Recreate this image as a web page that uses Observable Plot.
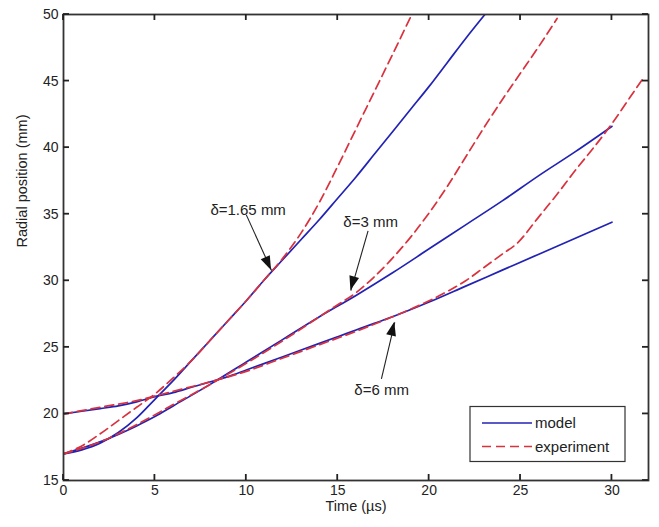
<!DOCTYPE html>
<html><head><meta charset="utf-8">
<script src="https://cdn.jsdelivr.net/npm/d3@7"></script>
<script src="https://cdn.jsdelivr.net/npm/@observablehq/plot@0.6"></script>
<style>
body{margin:0;background:#fff;}
#chart{width:659px;height:527px;}
</style></head><body><div id="chart"></div>
<script>
// ---- data (time in µs, radial position in mm) ----
const model165T = [0,1,2,3,4,5,6,7,8,9,10,11,12,13,14,15,16,17,18,19,20,21,22,23.05];
const model165R = [17.0,17.3,17.8,18.6,19.7,21.1,22.5,24.0,25.5,27.0,28.5,30.1,31.6,33.1,34.6,36.2,37.8,39.5,41.2,42.9,44.6,46.4,48.2,50.0];
const exp165T = [0,1,2,3,4,5,6,7,8,9,10,11,12,13,14,15,16,17,18,19.05];
const exp165R = [17.0,17.6,18.5,19.5,20.5,21.5,22.7,24.0,25.5,27.0,28.5,30.1,31.7,33.6,35.9,38.6,41.4,44.2,47.0,50.0];

const model3T = [0,2,4,5,6,8,10,12,14,16,18,20,22,24,26,28,30];
const model3R = [17.0,17.9,19.1,19.8,20.6,22.2,23.9,25.6,27.3,28.9,30.6,32.4,34.2,36.0,37.9,39.7,41.6];
const exp3T = [0,2,4,6,8,10,12,14,15,16,17,18,19,20,21,22,23,24,25,26,27];
const exp3R = [17.0,17.9,19.2,20.7,22.2,23.8,25.5,27.3,28.2,29.1,30.3,31.7,33.3,35.1,37.1,39.3,41.5,43.6,45.6,47.6,49.7];

const model6T = [0,1,2,3,4,5,6,7,8,9,10,11,12,13,14,15,16,17,18,20,22,24,26,28,30];
const model6R = [20.0,20.2,20.4,20.6,20.9,21.3,21.6,22.0,22.4,22.8,23.3,23.8,24.3,24.8,25.3,25.8,26.3,26.8,27.3,28.4,29.6,30.8,32.0,33.2,34.4];
const exp6T = [0,2,4,6,8,10,12,14,16,18,20,21,22,23,24,24.8,26,27,28,29,30,31,31.7];
const exp6R = [20.0,20.5,21.0,21.7,22.4,23.2,24.2,25.2,26.2,27.3,28.5,29.2,30.0,31.0,32.0,32.8,34.8,36.5,38.3,40.0,41.8,43.8,45.2];

const xTicks = [0,5,10,15,20,25,30];
const yTicks = [15,20,25,30,35,40,45,50];
const legendLabels = ["model","experiment"];

// annotations: arrow tail (x1,y1) -> tip (x2,y2), label at (tx,ty)
const annotations = [
  {label:"δ=1.65 mm", tx:10.1, ty:35.3, x1:10.0, y1:34.95, x2:11.38, y2:30.77},
  {label:"δ=3 mm",    tx:16.8, ty:34.4, x1:16.66, y1:33.75, x2:15.72, y2:29.26},
  {label:"δ=6 mm",    tx:17.4, ty:21.75, x1:17.39, y1:22.63, x2:18.12, y2:26.88}
];

// ---- build table ----
const series = [
  {kind:"model", key:"m165", t:model165T, r:model165R},
  {kind:"model", key:"m3", t:model3T, r:model3R},
  {kind:"model", key:"m6", t:model6T, r:model6R},
  {kind:"experiment", key:"e165", t:exp165T, r:exp165R},
  {kind:"experiment", key:"e3", t:exp3T, r:exp3R},
  {kind:"experiment", key:"e6", t:exp6T, r:exp6R}
];
const rows = series.flatMap(s => s.t.map((t,i) => ({t, r:s.r[i], key:s.key, kind:s.kind})));

const BLUE = "#2222b4", RED = "#d9323e", INK = "#222", AX = "#333";
const FONT = "'Liberation Sans', Arial, Helvetica, sans-serif";
const H = 527, W = 659, mT = 14, mB = 47, mL = 63, mR = 11;
const XD = [0, 32], YD = [15, 50];
const TICK = 6;

const plot = Plot.plot({
  width: W, height: H,
  marginLeft: mL, marginRight: mR, marginTop: mT, marginBottom: mB,
  x: {domain: XD},
  y: {domain: YD},
  style: {fontFamily: FONT, fontSize: "14px", color: INK, background: "#fff", overflow: "visible"},
  marks: [
    Plot.line(rows.filter(d => d.kind === "model"), {x:"t", y:"r", z:"key", stroke:BLUE, strokeWidth:1.7, curve:"monotone-x", clip:true}),
    Plot.line(rows.filter(d => d.kind === "experiment"), {x:"t", y:"r", z:"key", stroke:RED, strokeWidth:1.7, strokeDasharray:"9,5", curve:"monotone-x", clip:true}),
    Plot.frame({stroke:AX, strokeWidth:1.8}),
    Plot.axisX(xTicks, {anchor:"bottom", tickSize:0, tickPadding:5, label:null, fontSize:14}),
    Plot.axisY(yTicks, {anchor:"left", tickSize:0, tickPadding:5, label:null, fontSize:14}),
    Plot.text(["Time (µs)"], {frameAnchor:"bottom", dy:30, fontSize:14.5, fill:INK}),
    Plot.text(["Radial position (mm)"], {frameAnchor:"left", dx:-41, rotate:-90, fontSize:14.5, fill:INK}),
    Plot.link(annotations, {x1:"x1", y1:"y1", x2:"x2", y2:"y2", stroke:"#222", strokeWidth:1.1}),
    Plot.text(annotations, {x:"tx", y:"ty", text:"label", fontSize:15, fill:INK})
  ]
});

const svg = d3.select(plot);
const sx = plot.scale("x"), sy = plot.scale("y");

// inward tick marks on all four sides (positions from Plot's scales)
const fTop = sy.apply(YD[1]), fBottom = sy.apply(YD[0]), fLeft = sx.apply(XD[0]), fRight = sx.apply(XD[1]);
const tg = svg.append("g").attr("stroke", "#222").attr("stroke-width", 1.8);
for (const t of xTicks) {
  const x = sx.apply(t);
  tg.append("line").attr("x1", x).attr("x2", x).attr("y1", fBottom).attr("y2", fBottom - TICK);
  tg.append("line").attr("x1", x).attr("x2", x).attr("y1", fTop).attr("y2", fTop + TICK);
}
for (const t of yTicks) {
  const y = sy.apply(t);
  tg.append("line").attr("y1", y).attr("y2", y).attr("x1", fLeft).attr("x2", fLeft + TICK);
  tg.append("line").attr("y1", y).attr("y2", y).attr("x1", fRight).attr("x2", fRight - TICK);
}

// filled arrowheads
for (const a of annotations) {
  const x1 = sx.apply(a.x1), y1 = sy.apply(a.y1), x2 = sx.apply(a.x2), y2 = sy.apply(a.y2);
  const ang = Math.atan2(y2 - y1, x2 - x1);
  const L = 14, Wd = 5;
  const bx = x2 - L * Math.cos(ang), by = y2 - L * Math.sin(ang);
  const px = -Math.sin(ang) * Wd, py = Math.cos(ang) * Wd;
  svg.append("path")
    .attr("d", `M${x2},${y2}L${bx + px},${by + py}L${bx - px},${by - py}Z`)
    .attr("fill", "#111");
}

// legend box inside the axes, bottom-right
const lg = svg.append("g").attr("font-family", FONT).attr("font-size", 15).attr("fill", INK).attr("text-anchor", "start");
const bw = 155, bh = 55;
const bx0 = fRight - 23 - bw, by0 = fBottom - 18.5 - bh;
lg.append("rect").attr("x", bx0).attr("y", by0).attr("width", bw).attr("height", bh)
  .attr("fill", "#fff").attr("stroke", AX).attr("stroke-width", 1.2);
legendLabels.forEach((lab, i) => {
  const yy = by0 + 16.5 + i * 23.5;
  lg.append("line").attr("x1", bx0 + 12).attr("x2", bx0 + 62).attr("y1", yy).attr("y2", yy)
    .attr("stroke", i === 0 ? BLUE : RED).attr("stroke-width", 1.7)
    .attr("stroke-dasharray", i === 0 ? null : "9,5");
  lg.append("text").attr("x", bx0 + 65).attr("y", yy).attr("dy", "0.35em").attr("text-anchor", "start").text(lab);
});

document.getElementById("chart").appendChild(plot);
</script>
</body></html>
